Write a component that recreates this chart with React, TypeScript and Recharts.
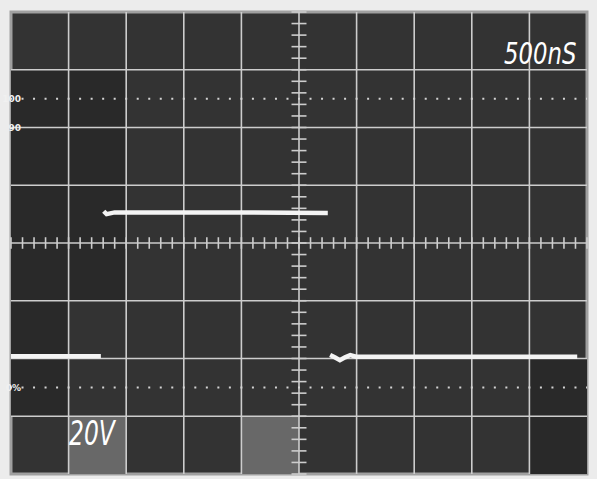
import { ComposedChart, Line, XAxis, YAxis, ReferenceLine, ReferenceArea } from 'recharts';

// screen graticule: 10 horizontal divisions (time), 8 vertical divisions (volts)
const divX = [0, 1, 2, 3, 4, 5, 6, 7, 8, 9, 10];
const divY = [0, 1, 2, 3, 4, 5, 6, 7, 8];

// minor ticks on the centre axes, 5 per division
const minorX = Array.from({ length: 51 }, (_, i) => i / 5);
const minorY = Array.from({ length: 41 }, (_, i) => i / 5);

// 100% and 0% dotted reference levels
const refLevels = [6.5, 1.5];

// trace (divisions); null = beam blanked during fast edge
const traceTime = [0, 1.56, 1.59, 1.61, 1.66, 1.8, 3.5, 5.5, 5.52, 5.54, 5.62, 5.71, 5.8, 5.89, 5.99, 9.83];
const traceLevel = [2.04, 2.04, null, 4.55, 4.5, 4.53, 4.53, 4.52, null, 2.06, 2.02, 1.97, 2.02, 2.06, 2.03, 2.03];

// shaded cells of the photo
const darkCells = [
  { x1: 0, x2: 2, y1: 3, y2: 7 },
  { x1: 0, x2: 1, y1: 1, y2: 3 },
  { x1: 9, x2: 10, y1: 0, y2: 2 },
];
const lightCells = [
  { x1: 1, x2: 2, y1: 0, y2: 1 },
  { x1: 4, x2: 5, y1: 0, y2: 1 },
];

const trace = traceTime.map((t, i) => ({ t, v: traceLevel[i] }));

const GRID = '#cdcdcd';

export default function App() {
  return (
    <div style={{ position: 'absolute', left: 0, top: 0, width: 597, height: 479, background: '#ececec' }}>
      <ComposedChart
        width={597}
        height={479}
        data={trace}
        margin={{ top: 12, right: 10, bottom: 5, left: 11 }}
      >
        <XAxis type="number" dataKey="t" domain={[0, 10]} ticks={divX} hide allowDataOverflow />
        <YAxis type="number" domain={[0, 8]} ticks={divY} hide allowDataOverflow />
        <ReferenceArea x1={0} x2={10} y1={0} y2={8} fill="#333333" fillOpacity={1} stroke="#a0a0a0" strokeWidth={3} />
        {darkCells.map((c, i) => (
          <ReferenceArea key={`d${i}`} {...c} fill="#292929" fillOpacity={1} stroke="none" />
        ))}
        {lightCells.map((c, i) => (
          <ReferenceArea key={`l${i}`} {...c} fill="#686868" fillOpacity={1} stroke="none" />
        ))}
        {divX.slice(1, -1).map((x) => (
          <ReferenceLine key={`gx${x}`} x={x} stroke={GRID} strokeWidth={1.6} />
        ))}
        {divY.slice(1, -1).map((y) => (
          <ReferenceLine key={`gy${y}`} y={y} stroke={GRID} strokeWidth={1.6} />
        ))}
        {minorX.map((x) => (
          <ReferenceLine key={`mx${x}`} segment={[{ x, y: 3.9 }, { x, y: 4.1 }]} stroke={GRID} strokeWidth={1.6} />
        ))}
        {minorY.map((y) => (
          <ReferenceLine key={`my${y}`} segment={[{ x: 4.87, y }, { x: 5.13, y }]} stroke={GRID} strokeWidth={1.6} />
        ))}
        {refLevels.map((y) => (
          <ReferenceLine
            key={`r${y}`}
            y={y}
            stroke="#d4d4d4"
            strokeWidth={2}
            strokeDasharray="2 9.52"
            strokeDashoffset={1}
          />
        ))}
        <Line
          dataKey="v"
          type="linear"
          stroke="#f4f4f4"
          strokeWidth={4.5}
          dot={false}
          connectNulls={false}
          isAnimationActive={false}
        />
      </ComposedChart>
      <svg width={597} height={479} style={{ position: 'absolute', left: 0, top: 0, pointerEvents: 'none' }}>
        <text transform="translate(504,64) scale(0.76,1)" fill="#ffffff" fontFamily="DejaVu Sans" fontStyle="italic" fontSize={30}>
          500nS
        </text>
        <text transform="translate(69,445) scale(0.71,1)" fill="#ffffff" fontFamily="DejaVu Sans" fontStyle="italic" fontSize={33}>
          20V
        </text>
        <text x={21} y={102} textAnchor="end" fill="#f0f0f0" fontFamily="DejaVu Sans" fontWeight="bold" fontSize={9}>100</text>
        <text x={21} y={131} textAnchor="end" fill="#f0f0f0" fontFamily="DejaVu Sans" fontWeight="bold" fontSize={9}>90</text>
        <text x={21} y={391} textAnchor="end" fill="#f0f0f0" fontFamily="DejaVu Sans" fontWeight="bold" fontSize={9}>0%</text>
      </svg>
    </div>
  );
}
